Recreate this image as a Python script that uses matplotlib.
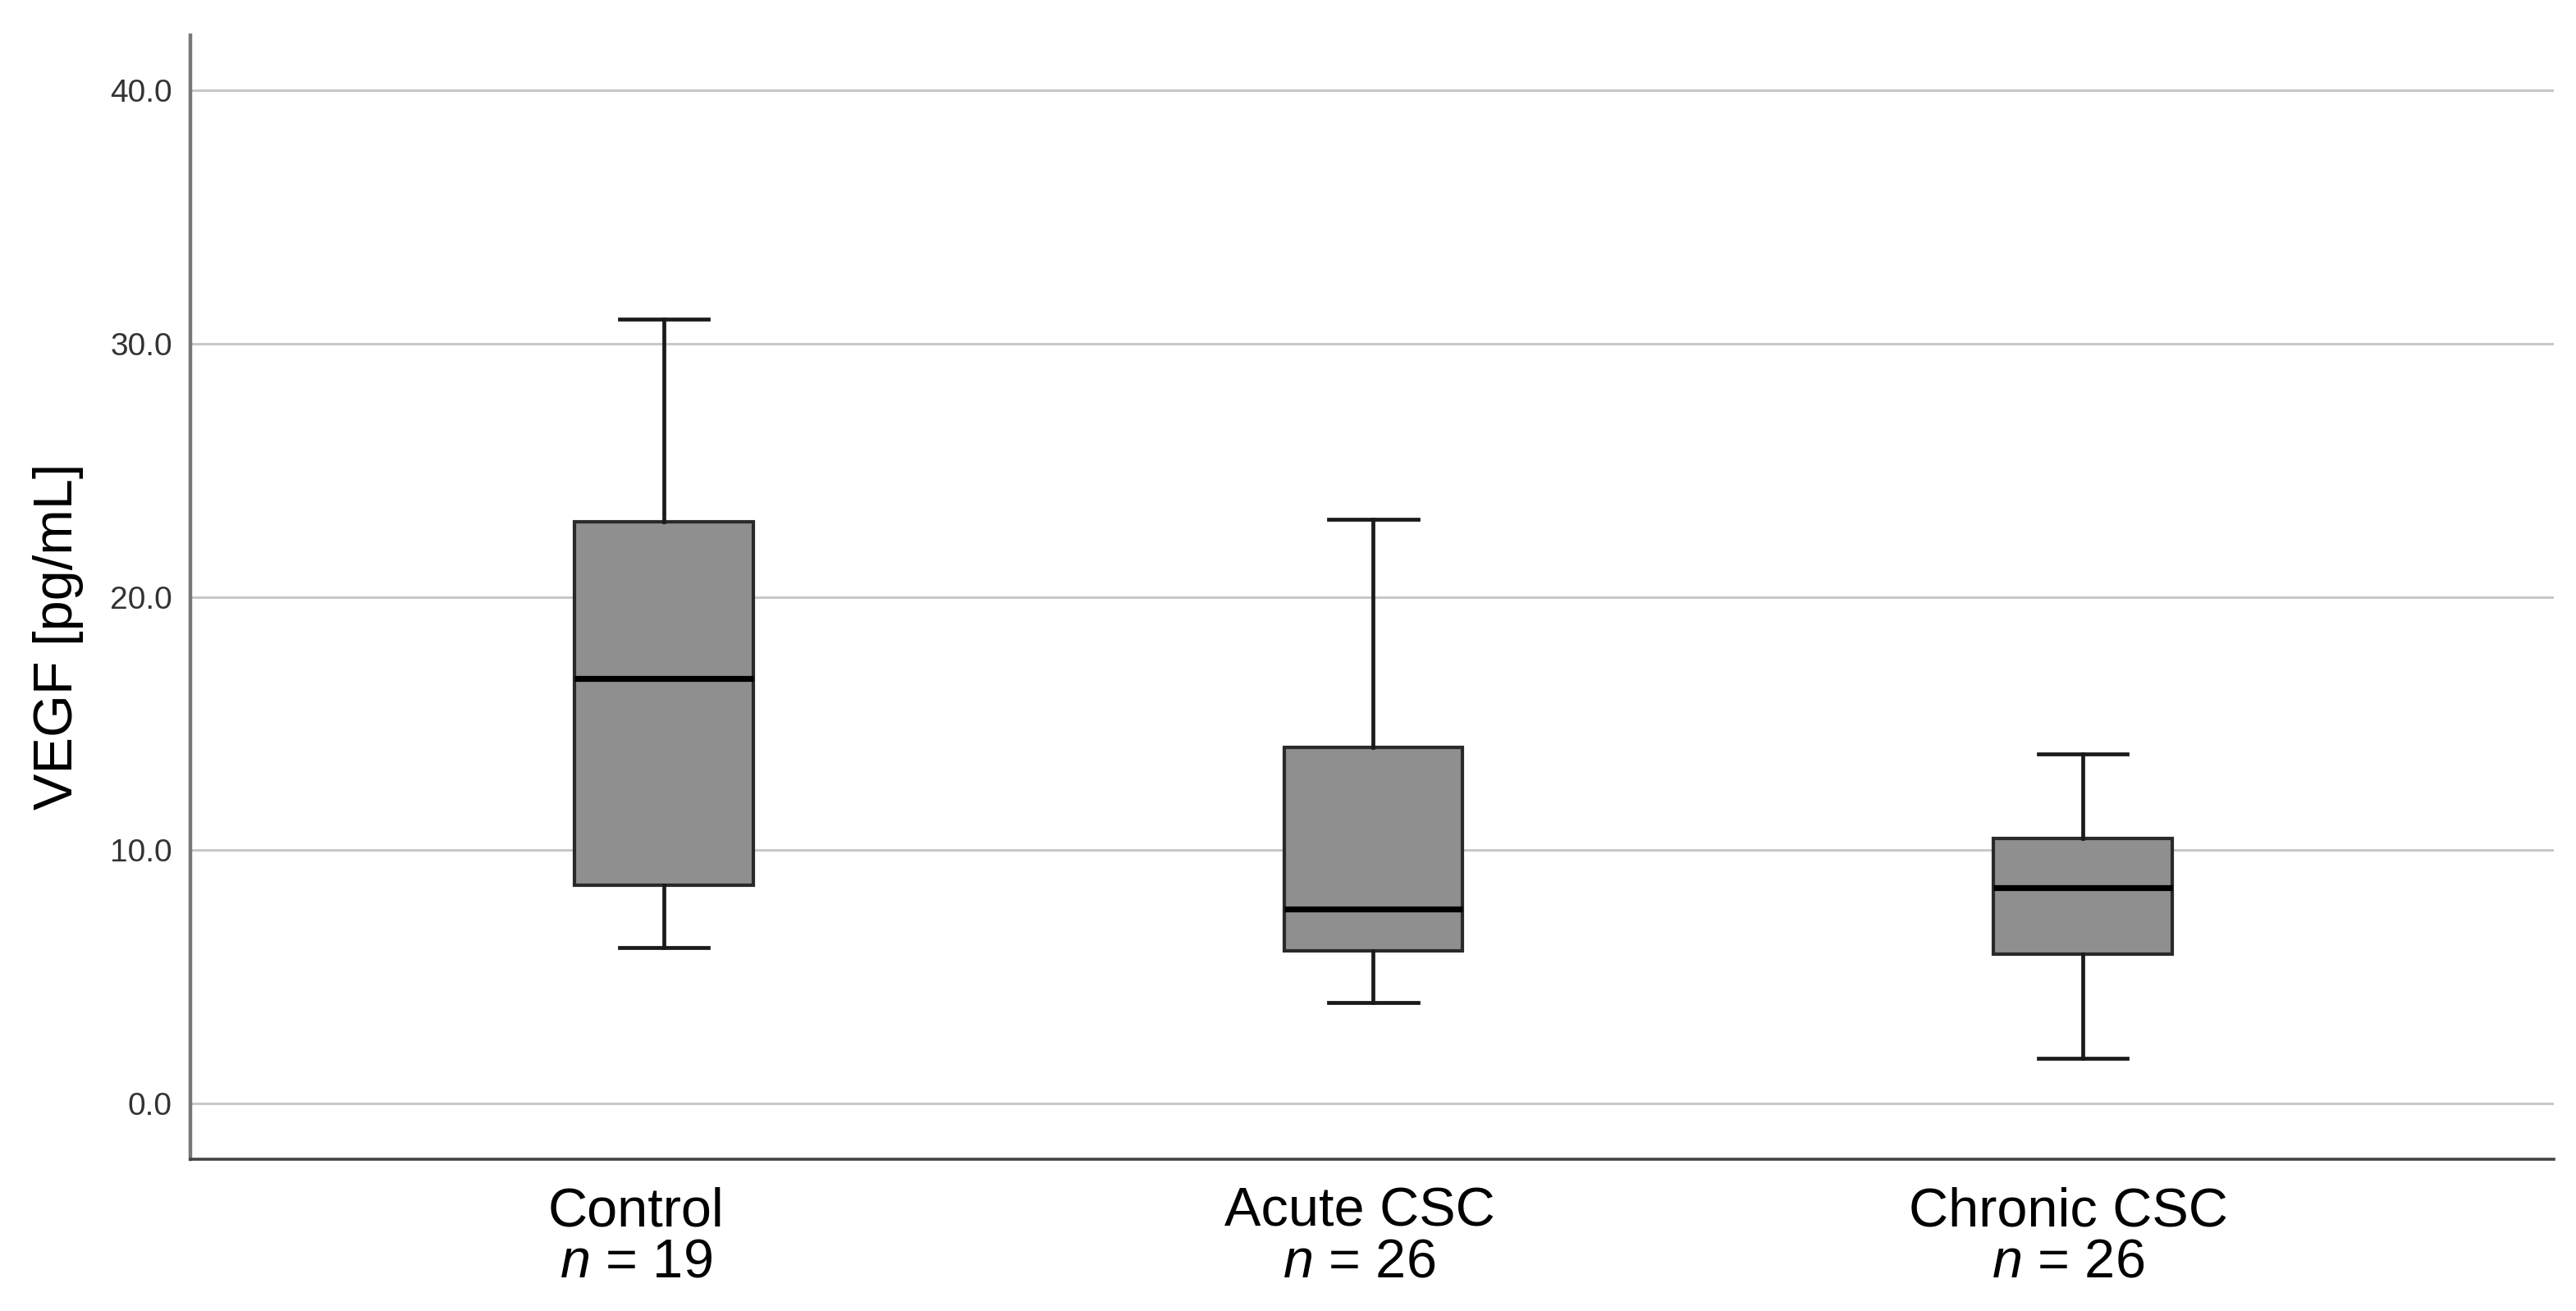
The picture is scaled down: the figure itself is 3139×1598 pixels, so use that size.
import matplotlib
matplotlib.use("Agg")
import matplotlib.pyplot as plt
import matplotlib.transforms as mtransforms

# Data
groups = ["Control", "Acute CSC", "Chronic CSC"]
n_values = [19, 26, 26]
whisker_low = [6.15, 3.98, 1.78]
q1 = [8.62, 6.02, 5.89]
median = [16.78, 7.68, 8.52]
q3 = [22.97, 14.07, 10.46]
whisker_high = [30.96, 23.05, 13.8]
yticks = [0.0, 10.0, 20.0, 30.0, 40.0]

plt.rcParams['font.family'] = ['Liberation Sans', 'DejaVu Sans']
plt.rcParams['mathtext.fontset'] = 'custom'
plt.rcParams['mathtext.rm'] = 'Liberation Sans'
plt.rcParams['mathtext.it'] = 'Liberation Sans:italic'

W, H, DPI = 3139, 1598, 200
fig = plt.figure(figsize=(W / DPI, H / DPI), dpi=DPI)
ax = fig.add_axes([232 / W, 1 - 1413 / H, (3112 - 232) / W, (1413 - 43) / H])

stats = []
for i, g in enumerate(groups):
    stats.append(dict(label=g, whislo=whisker_low[i], q1=q1[i], med=median[i],
                      q3=q3[i], whishi=whisker_high[i], fliers=[]))

positions = list(range(1, len(groups) + 1))
ax.bxp(stats, positions=positions, widths=0.252, patch_artist=True,
       showfliers=False,
       boxprops=dict(facecolor='#8f8f8f', edgecolor='#2a2a2a', linewidth=1.5),
       medianprops=dict(color='black', linewidth=2.6),
       whiskerprops=dict(color='#1a1a1a', linewidth=1.7),
       capprops=dict(color='#1a1a1a', linewidth=1.7))

ax.set_xlim(0.3326, 3.664)
ax.set_ylim(-2.2, 42.17)
ax.set_yticks(yticks)
ax.set_yticklabels([f"{v:.1f}" for v in yticks])
ax.set_xticks(positions)
ax.set_xticklabels([])

# category labels, slightly shifted left as in the original
label_shift_px = [-34, -17, -18]
for pos, g, n, dx in zip(positions, groups, n_values, label_shift_px):
    tr = ax.get_xaxis_transform() + mtransforms.ScaledTranslation(
        dx / DPI, -12 / 72, fig.dpi_scale_trans)
    ax.text(pos, 0, f"{g}\n$n$ = {n}", transform=tr, ha='center', va='top',
            fontsize=24, linespacing=1.0, multialignment='center')

ax.tick_params(axis='y', length=0, labelsize=14, labelcolor='#333333', pad=8)
ax.tick_params(axis='x', length=0)

ax.yaxis.grid(True, color='#c8c8c8', linewidth=1.1)
ax.set_axisbelow(True)

for s in ['top', 'right']:
    ax.spines[s].set_visible(False)
ax.spines['left'].set_color('#777777')
ax.spines['left'].set_linewidth(1.6)
ax.spines['bottom'].set_color('#444444')
ax.spines['bottom'].set_linewidth(1.3)

ax.set_ylabel("VEGF [pg/mL]", fontsize=24)
ax.yaxis.set_label_coords(-0.045, 0.465)

fig.savefig("out.png", dpi=DPI, facecolor='white')
